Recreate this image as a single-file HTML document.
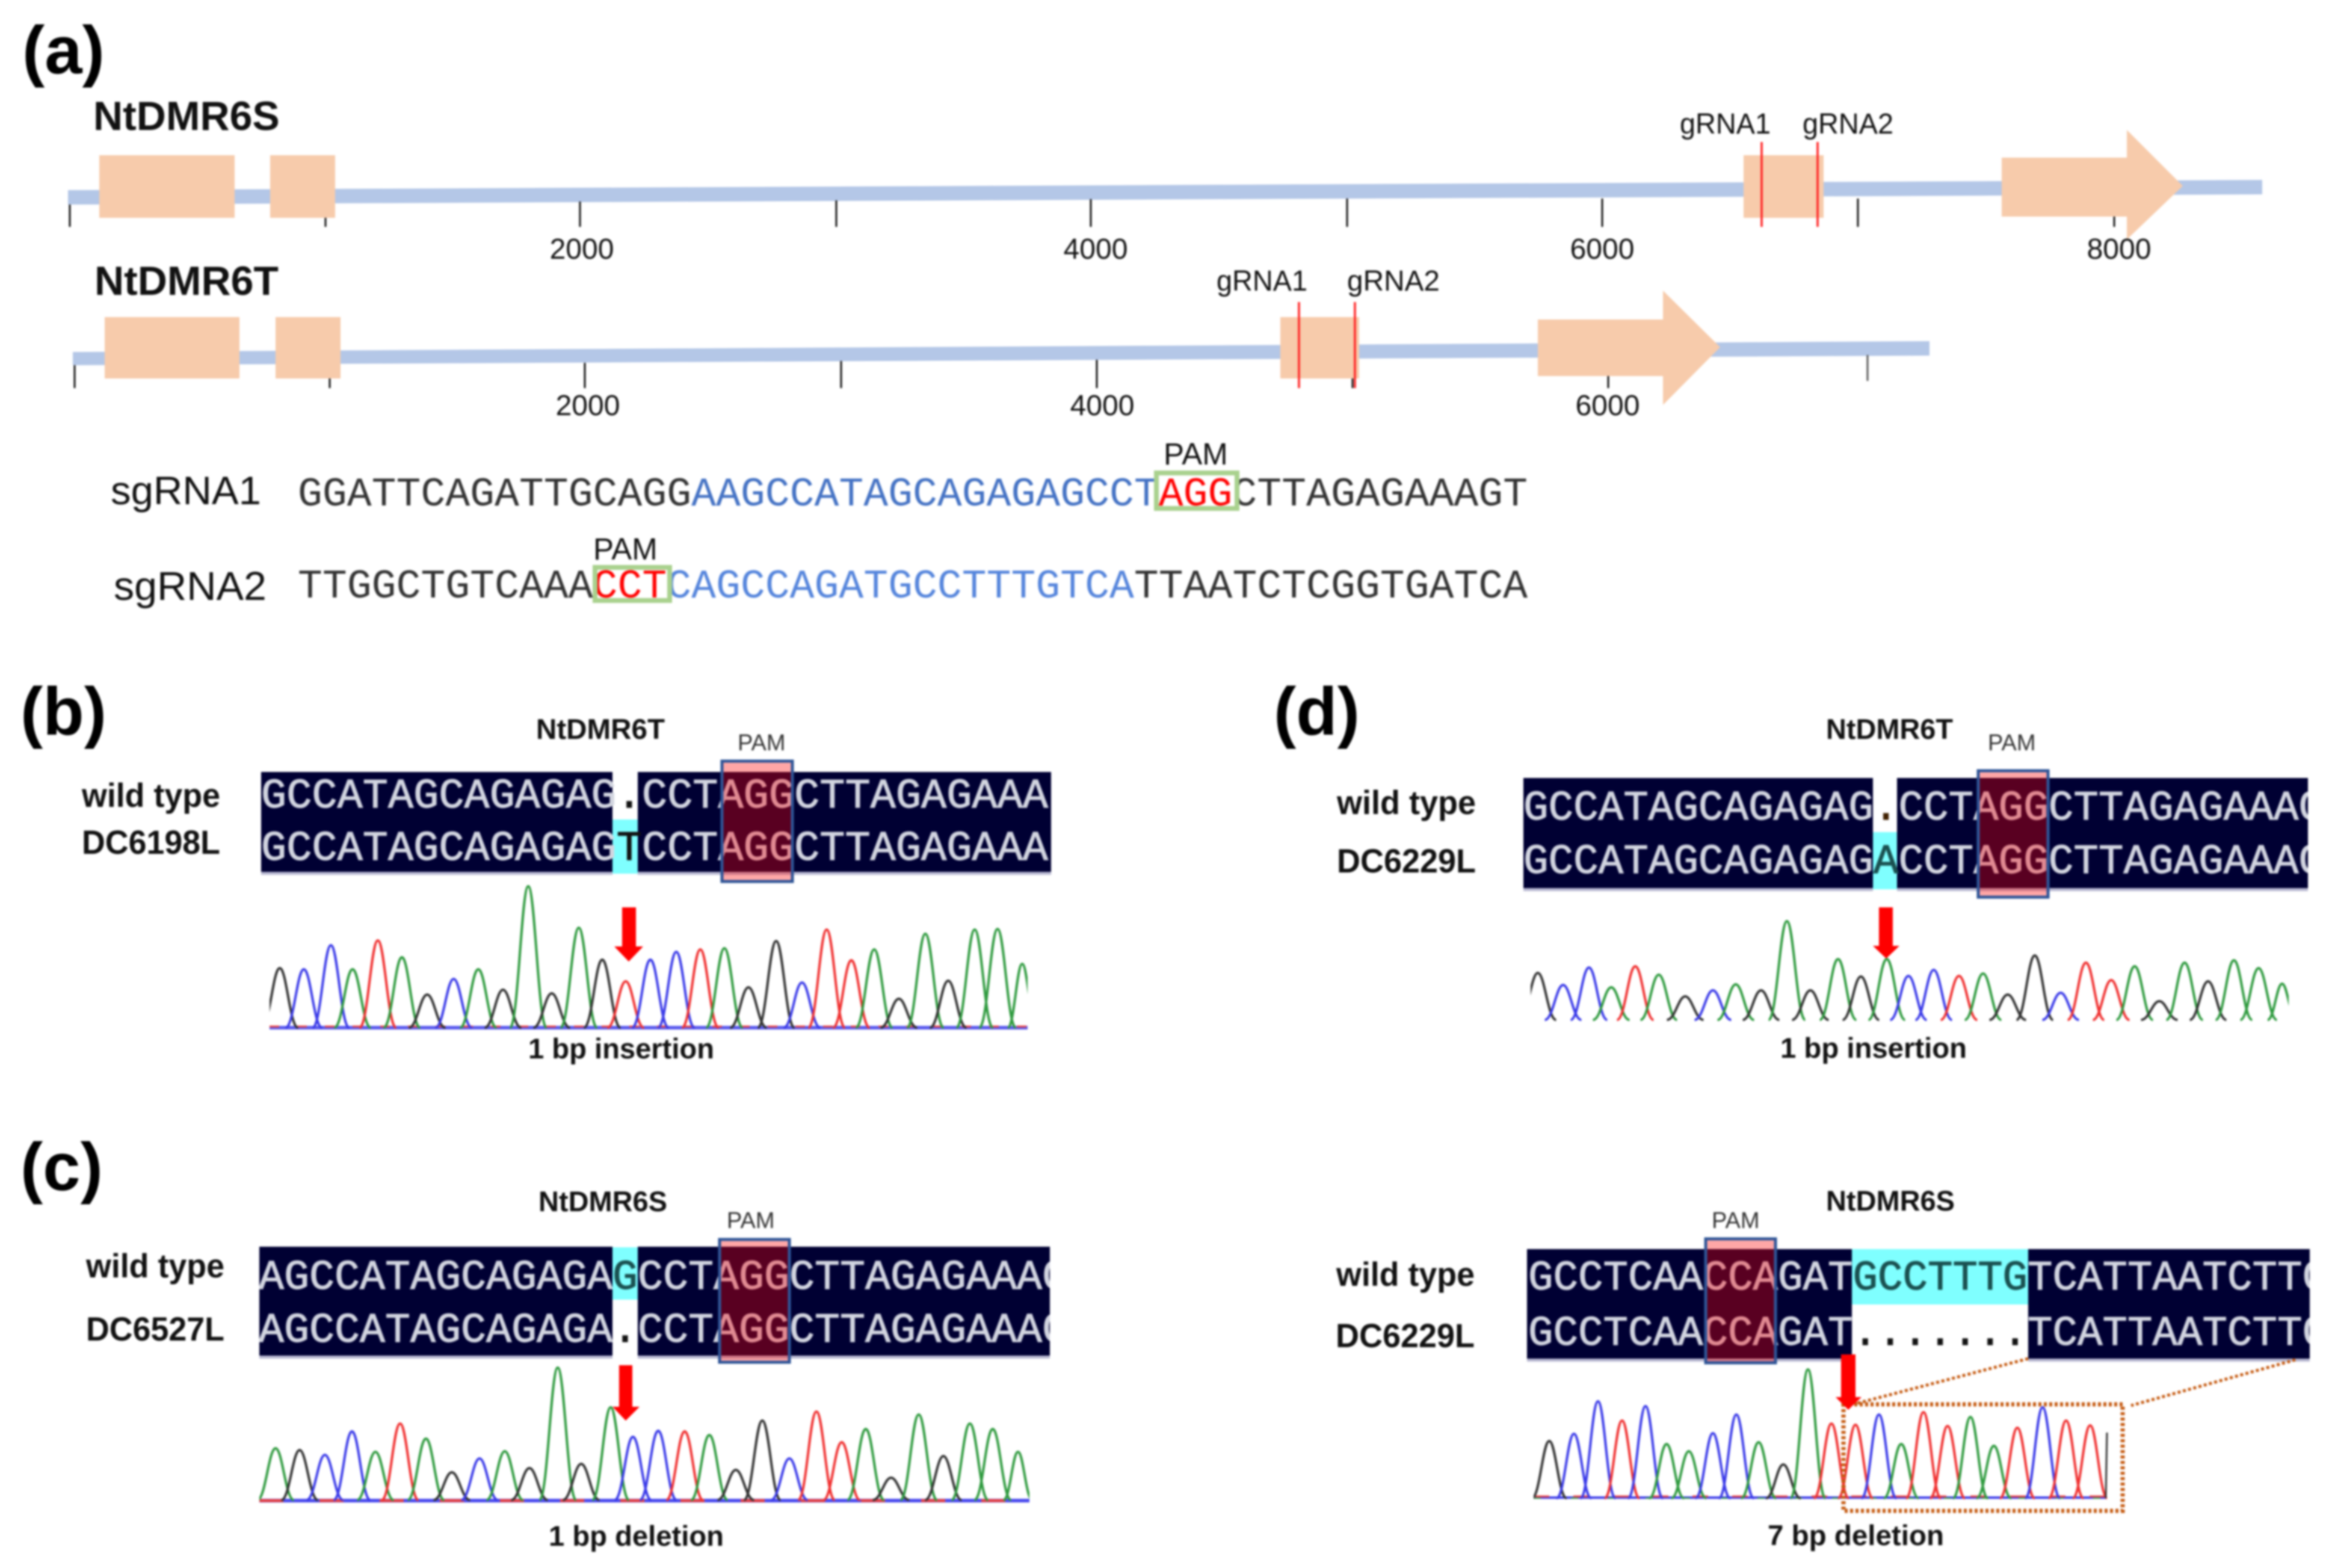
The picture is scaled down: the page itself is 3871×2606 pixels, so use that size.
<!DOCTYPE html>
<html><head><meta charset="utf-8"><style>
html,body{margin:0;padding:0;background:#fff}
svg{display:block;filter:blur(1.6px)}
text{font-family:"Liberation Sans",sans-serif;fill:#111}
.h{font-weight:bold}
.big{font-weight:bold;font-size:112px;fill:#000}
.g{font-size:68px;font-weight:bold}
.n{font-size:48px;fill:#111}
.s{font-size:47px;font-weight:bold}
.pm{font-size:38px;fill:#333}
.l{font-size:56px;font-weight:bold}
.m{font-family:"Liberation Mono",monospace;font-size:70px;fill:#d2d5e0;stroke:#d2d5e0;stroke-width:1.2}
.q{font-family:"Liberation Mono",monospace;font-size:68px;fill:#333}
use{fill:none;stroke-width:4}
.K{stroke:#333}.B{stroke:#3a3ae8}.G{stroke:#2e9a3e}.R{stroke:#f03030}
</style></head><body>
<svg width="3871" height="2606" viewBox="0 0 3871 2606" xmlns="http://www.w3.org/2000/svg">
<defs>
<path id="p" d="M-.8 0C-.44 0-.3-1 0-1S.44 0 .8 0" vector-effect="non-scaling-stroke"/>
<clipPath id="cb"><rect x="434" y="1270" width="1313" height="200"/></clipPath>
<clipPath id="cd"><rect x="2532" y="1270" width="1304" height="220"/></clipPath>
<clipPath id="cc"><rect x="431" y="2060" width="1314" height="200"/></clipPath>
<clipPath id="ce"><rect x="2538" y="2060" width="1301" height="200"/></clipPath>
<clipPath id="pb"><rect x="448" y="1450" width="1260" height="270"/></clipPath>
<clipPath id="pd"><rect x="2544" y="1450" width="1260" height="260"/></clipPath>
<clipPath id="pc"><rect x="431" y="2250" width="1280" height="255"/></clipPath>
<clipPath id="pe"><rect x="2549" y="2250" width="953" height="250"/></clipPath>
</defs>
<rect width="3871" height="2606" fill="#fff"/>

<!-- (a) -->
<text class="big" x="37" y="122">(a)</text>
<text class="g" x="155" y="216">NtDMR6S</text>
<text class="g" x="157" y="490">NtDMR6T</text>

<polygon points="113,316 3760,299 3760,323 113,340" fill="#b4c7e7"/>
<g stroke="#111" stroke-width="3">
<line x1="116" y1="340" x2="116" y2="377"/><line x1="541" y1="340" x2="541" y2="377"/><line x1="964" y1="335" x2="964" y2="377"/><line x1="1390" y1="333" x2="1390" y2="377"/><line x1="1813" y1="331" x2="1813" y2="377"/><line x1="2239" y1="330" x2="2239" y2="377"/><line x1="2663" y1="330" x2="2663" y2="377"/><line x1="3088" y1="330" x2="3088" y2="377"/><line x1="3514" y1="330" x2="3514" y2="377"/>
</g>
<g fill="#f7cbab">
<rect x="165" y="258" width="225" height="104"/><rect x="449" y="258" width="108" height="104"/><rect x="2898" y="258" width="133" height="104"/>
<polygon points="3327,262 3535,262 3535,216 3628,309 3535,398 3535,360 3327,360"/>
</g>
<g stroke="#f22" stroke-width="3.5"><line x1="2928" y1="236" x2="2928" y2="377"/><line x1="3021" y1="236" x2="3021" y2="377"/></g>
<g text-anchor="middle"><text class="n" x="967" y="430">2000</text><text class="n" x="1821" y="430">4000</text><text class="n" x="2663" y="430">6000</text><text class="n" x="3522" y="430">8000</text></g>
<text class="n" x="2792" y="222" textLength="151" lengthAdjust="spacingAndGlyphs">gRNA1</text>
<text class="n" x="2996" y="222" textLength="151" lengthAdjust="spacingAndGlyphs">gRNA2</text>

<polygon points="121,585 3207,567 3207,591 121,607" fill="#b4c7e7"/>
<g stroke="#111" stroke-width="3">
<line x1="124" y1="607" x2="124" y2="645"/><line x1="548" y1="605" x2="548" y2="645"/><line x1="972" y1="603" x2="972" y2="645"/><line x1="1398" y1="600" x2="1398" y2="645"/><line x1="1823" y1="598" x2="1823" y2="645"/><line x1="2248" y1="596" x2="2248" y2="645"/><line x1="2673" y1="594" x2="2673" y2="645"/><line x1="3104" y1="590" x2="3104" y2="633" stroke="#555"/>
</g>
<g fill="#f7cbab">
<rect x="174" y="527" width="224" height="102"/><rect x="458" y="527" width="108" height="102"/><rect x="2128" y="527" width="131" height="102"/>
<polygon points="2556,531 2764,531 2764,483 2859,577 2764,673 2764,625 2556,625"/>
</g>
<g stroke="#f22" stroke-width="3.5"><line x1="2159" y1="502" x2="2159" y2="645"/><line x1="2252" y1="502" x2="2252" y2="645"/></g>
<g text-anchor="middle"><text class="n" x="977" y="690">2000</text><text class="n" x="1832" y="690">4000</text><text class="n" x="2672" y="690">6000</text></g>
<text class="n" x="2022" y="483" textLength="151" lengthAdjust="spacingAndGlyphs">gRNA1</text>
<text class="n" x="2239" y="483" textLength="154" lengthAdjust="spacingAndGlyphs">gRNA2</text>

<text x="184" y="838" font-size="66" textLength="250" lengthAdjust="spacingAndGlyphs">sgRNA1</text>
<text x="189" y="997" font-size="67" textLength="254" lengthAdjust="spacingAndGlyphs">sgRNA2</text>
<text class="q" x="495" y="840" textLength="2044" lengthAdjust="spacingAndGlyphs">GGATTCAGATTGCAGG<tspan style="fill:#4472c4">AAGCCATAGCAGAGAGCCT</tspan><tspan style="fill:#f00">AGG</tspan>CTTAGAGAAAGT</text>
<text class="q" x="495" y="993" textLength="2044" lengthAdjust="spacingAndGlyphs">TTGGCTGTCAAA<tspan style="fill:#f00">CCT</tspan><tspan style="fill:#5585dc">CAGCCAGATGCCTTTGTCA</tspan>TTAATCTCGGTGATCA</text>
<rect x="1922" y="786" width="134" height="59" fill="none" stroke="#a9d18e" stroke-width="8"/>
<rect x="989" y="943" width="124" height="55" fill="none" stroke="#a9d18e" stroke-width="8"/>
<text x="1934" y="772" font-size="51">PAM</text>
<text x="986" y="930" font-size="51">PAM</text>

<!-- (b) -->
<text class="big" x="34" y="1221">(b)</text>
<text class="s" x="891" y="1228" textLength="214" lengthAdjust="spacingAndGlyphs">NtDMR6T</text>
<text class="pm" x="1226" y="1247">PAM</text>
<text class="l" x="136" y="1341" textLength="230" lengthAdjust="spacingAndGlyphs">wild type</text>
<text class="l" x="136" y="1419" textLength="230" lengthAdjust="spacingAndGlyphs">DC6198L</text>
<rect x="434" y="1283" width="584" height="166" fill="#000033"/><rect x="1060" y="1283" width="687" height="166" fill="#000033"/>
<rect x="1018" y="1362" width="42" height="90" fill="#7fffff"/>
<rect x="434" y="1449" width="584" height="5" fill="#b9b9d2"/><rect x="1060" y="1449" width="687" height="5" fill="#b9b9d2"/>
<g clip-path="url(#cb)">
<text class="m" x="434" y="1342" textLength="1308" lengthAdjust="spacingAndGlyphs">GCCATAGCAGAGAG<tspan style="fill:#111;stroke:#111">.</tspan>CCTAGGCTTAGAGAAA</text>
<text class="m" x="434" y="1429" textLength="1308" lengthAdjust="spacingAndGlyphs">GCCATAGCAGAGAG<tspan style="fill:#111;stroke:#111">T</tspan>CCTAGGCTTAGAGAAA</text>
</g>
<rect x="1200" y="1265" width="117" height="200" fill="rgba(255,0,0,.35)" stroke="#2f5597" stroke-width="5"/>
<line x1="448" y1="1708" x2="1708" y2="1708" stroke="#5a5aee" stroke-width="6"/>
<line x1="448" y1="1706" x2="1708" y2="1706" stroke="#e84040" stroke-width="3" stroke-dasharray="16 30"/>
<g clip-path="url(#pb)"><g transform="translate(0 1708)">
<use href="#p" class="K" transform="translate(465)scale(38 99)"/><use href="#p" class="B" transform="translate(505)scale(38 97)"/><use href="#p" class="B" transform="translate(550)scale(38 137)"/><use href="#p" class="G" transform="translate(586)scale(38 97)"/><use href="#p" class="R" transform="translate(628)scale(38 145)"/><use href="#p" class="G" transform="translate(668)scale(38 117)"/><use href="#p" class="K" transform="translate(710)scale(38 55)"/><use href="#p" class="B" transform="translate(754)scale(38 81)"/><use href="#p" class="G" transform="translate(795)scale(38 97)"/><use href="#p" class="K" transform="translate(836)scale(38 63)"/><use href="#p" class="G" transform="translate(878)scale(38 235)"/><use href="#p" class="K" transform="translate(917)scale(38 57)"/><use href="#p" class="G" transform="translate(962)scale(38 166)"/><use href="#p" class="K" transform="translate(1001)scale(38 113)"/><use href="#p" class="R" transform="translate(1040)scale(38 77)"/><use href="#p" class="B" transform="translate(1081)scale(38 113)"/><use href="#p" class="B" transform="translate(1124)scale(38 126)"/><use href="#p" class="R" transform="translate(1164)scale(38 130)"/><use href="#p" class="G" transform="translate(1204)scale(38 132)"/><use href="#p" class="K" transform="translate(1244)scale(38 67)"/><use href="#p" class="K" transform="translate(1290)scale(38 144)"/><use href="#p" class="B" transform="translate(1333)scale(38 75)"/><use href="#p" class="R" transform="translate(1374)scale(38 163)"/><use href="#p" class="R" transform="translate(1415)scale(38 112)"/><use href="#p" class="G" transform="translate(1453)scale(38 130)"/><use href="#p" class="K" transform="translate(1494)scale(38 48)"/><use href="#p" class="G" transform="translate(1538)scale(38 156)"/><use href="#p" class="K" transform="translate(1576)scale(38 78)"/><use href="#p" class="G" transform="translate(1620)scale(38 163)"/><use href="#p" class="G" transform="translate(1658)scale(38 164)"/><use href="#p" class="G" transform="translate(1699)scale(30 106)"/>
</g></g>
<polygon points="1034,1508 1057,1508 1057,1573 1069,1573 1045,1598 1021,1573 1034,1573" fill="#f00"/>
<text class="s" x="878" y="1759" textLength="309" lengthAdjust="spacingAndGlyphs">1 bp insertion</text>

<!-- (d) top -->
<text class="big" x="2117" y="1221">(d)</text>
<text class="s" x="3035" y="1228" textLength="211" lengthAdjust="spacingAndGlyphs">NtDMR6T</text>
<text class="pm" x="3304" y="1247">PAM</text>
<text class="l" x="2222" y="1353" textLength="231" lengthAdjust="spacingAndGlyphs">wild type</text>
<text class="l" x="2222" y="1450" textLength="231" lengthAdjust="spacingAndGlyphs">DC6229L</text>
<rect x="2532" y="1293" width="581" height="183" fill="#000033"/><rect x="3153" y="1293" width="683" height="183" fill="#000033"/>
<rect x="3113" y="1383" width="40" height="95" fill="#7fffff"/>
<rect x="2532" y="1476" width="581" height="5" fill="#b9b9d2"/><rect x="3153" y="1476" width="683" height="5" fill="#b9b9d2"/>
<g clip-path="url(#cd)">
<text class="m" x="2532" y="1362" textLength="1330" lengthAdjust="spacingAndGlyphs">GCCATAGCAGAGAG<tspan style="fill:#402000;stroke:#402000">.</tspan>CCTAGGCTTAGAGAAAC</text>
<text class="m" x="2532" y="1451" textLength="1330" lengthAdjust="spacingAndGlyphs">GCCATAGCAGAGAG<tspan style="fill:#1a5050;stroke:#1a5050">A</tspan>CCTAGGCTTAGAGAAAC</text>
</g>
<rect x="3288" y="1281" width="116" height="210" fill="rgba(255,0,0,.35)" stroke="#2f5597" stroke-width="5"/>
<g clip-path="url(#pd)"><g transform="translate(0 1695)">
<use href="#p" class="K" transform="translate(2556)scale(38 78)"/><use href="#p" class="B" transform="translate(2598)scale(38 58)"/><use href="#p" class="B" transform="translate(2641)scale(38 87)"/><use href="#p" class="G" transform="translate(2678)scale(38 54)"/><use href="#p" class="R" transform="translate(2718)scale(38 89)"/><use href="#p" class="G" transform="translate(2757)scale(38 75)"/><use href="#p" class="K" transform="translate(2801)scale(38 39)"/><use href="#p" class="B" transform="translate(2847)scale(38 49)"/><use href="#p" class="G" transform="translate(2885)scale(38 59)"/><use href="#p" class="K" transform="translate(2927)scale(38 49)"/><use href="#p" class="G" transform="translate(2970)scale(38 164)"/><use href="#p" class="K" transform="translate(3009)scale(38 49)"/><use href="#p" class="G" transform="translate(3055)scale(38 101)"/><use href="#p" class="K" transform="translate(3093)scale(38 72)"/><use href="#p" class="G" transform="translate(3136)scale(38 101)"/><use href="#p" class="B" transform="translate(3172)scale(38 73)"/><use href="#p" class="B" transform="translate(3214)scale(38 83)"/><use href="#p" class="R" transform="translate(3256)scale(38 73)"/><use href="#p" class="G" transform="translate(3296)scale(38 77)"/><use href="#p" class="K" transform="translate(3337)scale(38 42)"/><use href="#p" class="K" transform="translate(3382)scale(38 107)"/><use href="#p" class="B" transform="translate(3425)scale(38 45)"/><use href="#p" class="R" transform="translate(3467)scale(38 95)"/><use href="#p" class="R" transform="translate(3509)scale(38 66)"/><use href="#p" class="G" transform="translate(3548)scale(38 89)"/><use href="#p" class="K" transform="translate(3589)scale(38 31)"/><use href="#p" class="G" transform="translate(3631)scale(38 95)"/><use href="#p" class="K" transform="translate(3670)scale(38 64)"/><use href="#p" class="G" transform="translate(3713)scale(38 99)"/><use href="#p" class="G" transform="translate(3754)scale(38 86)"/><use href="#p" class="G" transform="translate(3793)scale(30 60)"/>
</g></g>
<polygon points="3123,1508 3146,1508 3146,1572 3157,1572 3135,1593 3113,1572 3123,1572" fill="#f00"/>
<text class="s" x="2959" y="1758" textLength="310" lengthAdjust="spacingAndGlyphs">1 bp insertion</text>

<!-- (c) -->
<text class="big" x="34" y="1978">(c)</text>
<text class="s" x="895" y="2013" textLength="214" lengthAdjust="spacingAndGlyphs">NtDMR6S</text>
<text class="pm" x="1208" y="2041">PAM</text>
<text class="l" x="143" y="2123" textLength="230" lengthAdjust="spacingAndGlyphs">wild type</text>
<text class="l" x="143" y="2228" textLength="230" lengthAdjust="spacingAndGlyphs">DC6527L</text>
<rect x="431" y="2072" width="587" height="181" fill="#000033"/><rect x="1060" y="2072" width="685" height="181" fill="#000033"/>
<rect x="1018" y="2073" width="42" height="87" fill="#7fffff"/>
<rect x="431" y="2253" width="587" height="5" fill="#b9b9d2"/><rect x="1060" y="2253" width="685" height="5" fill="#b9b9d2"/>
<g clip-path="url(#cc)">
<text class="m" x="430" y="2142" textLength="1344" lengthAdjust="spacingAndGlyphs">AGCCATAGCAGAGA<tspan style="fill:#1a5050;stroke:#1a5050">G</tspan>CCTAGGCTTAGAGAAAC</text>
<text class="m" x="430" y="2230" textLength="1344" lengthAdjust="spacingAndGlyphs">AGCCATAGCAGAGA<tspan style="fill:#111;stroke:#111">.</tspan>CCTAGGCTTAGAGAAAC</text>
</g>
<rect x="1196" y="2060" width="116" height="204" fill="rgba(255,0,0,.35)" stroke="#2f5597" stroke-width="5"/>
<line x1="431" y1="2494" x2="1711" y2="2494" stroke="#4a4aee" stroke-width="6"/>
<line x1="431" y1="2494" x2="1711" y2="2494" stroke="#e84040" stroke-width="5" stroke-dasharray="40 60"/>
<g clip-path="url(#pc)"><g transform="translate(0 2493)">
<use href="#p" class="G" transform="translate(458)scale(38 86)"/><use href="#p" class="K" transform="translate(498)scale(38 83)"/><use href="#p" class="B" transform="translate(540)scale(38 75)"/><use href="#p" class="B" transform="translate(585)scale(38 114)"/><use href="#p" class="G" transform="translate(624)scale(38 80)"/><use href="#p" class="R" transform="translate(665)scale(38 127)"/><use href="#p" class="G" transform="translate(708)scale(38 102)"/><use href="#p" class="K" transform="translate(751)scale(38 46)"/><use href="#p" class="B" transform="translate(797)scale(38 69)"/><use href="#p" class="G" transform="translate(839)scale(38 81)"/><use href="#p" class="K" transform="translate(880)scale(38 53)"/><use href="#p" class="G" transform="translate(927)scale(38 220)"/><use href="#p" class="K" transform="translate(966)scale(38 60)"/><use href="#p" class="G" transform="translate(1015)scale(38 154)"/><use href="#p" class="B" transform="translate(1052)scale(38 105)"/><use href="#p" class="B" transform="translate(1094)scale(38 115)"/><use href="#p" class="R" transform="translate(1138)scale(38 114)"/><use href="#p" class="G" transform="translate(1179)scale(38 108)"/><use href="#p" class="K" transform="translate(1223)scale(38 50)"/><use href="#p" class="K" transform="translate(1267)scale(38 132)"/><use href="#p" class="B" transform="translate(1312)scale(38 69)"/><use href="#p" class="R" transform="translate(1357)scale(38 147)"/><use href="#p" class="R" transform="translate(1399)scale(38 96)"/><use href="#p" class="G" transform="translate(1439)scale(38 118)"/><use href="#p" class="K" transform="translate(1481)scale(38 37)"/><use href="#p" class="G" transform="translate(1527)scale(38 142)"/><use href="#p" class="K" transform="translate(1568)scale(38 73)"/><use href="#p" class="G" transform="translate(1612)scale(38 127)"/><use href="#p" class="G" transform="translate(1650)scale(38 118)"/><use href="#p" class="G" transform="translate(1692)scale(30 80)"/>
</g></g>
<polygon points="1029,2269 1051,2269 1051,2338 1063,2338 1040,2361 1018,2338 1029,2338" fill="#f00"/>
<text class="s" x="912" y="2569" textLength="291" lengthAdjust="spacingAndGlyphs">1 bp deletion</text>

<!-- (d) bottom -->
<text class="s" x="3035" y="2012" textLength="214" lengthAdjust="spacingAndGlyphs">NtDMR6S</text>
<text class="pm" x="2845" y="2041">PAM</text>
<text class="l" x="2221" y="2137" textLength="230" lengthAdjust="spacingAndGlyphs">wild type</text>
<text class="l" x="2220" y="2239" textLength="231" lengthAdjust="spacingAndGlyphs">DC6229L</text>
<rect x="2538" y="2076" width="540" height="182" fill="#000033"/><rect x="3371" y="2076" width="468" height="182" fill="#000033"/>
<rect x="3078" y="2076" width="293" height="92" fill="#7fffff"/>
<rect x="2538" y="2258" width="540" height="5" fill="#b9b9d2"/><rect x="3371" y="2258" width="468" height="5" fill="#b9b9d2"/>
<g clip-path="url(#ce)">
<text class="m" x="2540" y="2143" textLength="1328" lengthAdjust="spacingAndGlyphs">GCCTCAACCAGAT<tspan style="fill:#1a5050;stroke:#1a5050">GCCTTTG</tspan>TCATTAATCTTC</text>
<text class="m" x="2540" y="2235" textLength="1328" lengthAdjust="spacingAndGlyphs">GCCTCAACCAGAT<tspan style="fill:#111;stroke:#111">.......</tspan>TCATTAATCTTC</text>
</g>
<rect x="2835" y="2059" width="116" height="206" fill="rgba(255,0,0,.35)" stroke="#2f5597" stroke-width="5"/>
<line x1="2549" y1="2489" x2="3502" y2="2489" stroke="#3a3ae8" stroke-width="4"/>
<line x1="2549" y1="2487" x2="3502" y2="2487" stroke="#e84040" stroke-width="3" stroke-dasharray="26 40"/>
<line x1="2549" y1="2490" x2="3502" y2="2490" stroke="#2e9a3e" stroke-width="2" stroke-dasharray="12 50"/>
<g clip-path="url(#pe)"><g transform="translate(0 2490)">
<use href="#p" class="K" transform="translate(2575)scale(36 95)"/><use href="#p" class="B" transform="translate(2616)scale(36 107)"/><use href="#p" class="B" transform="translate(2656)scale(36 161)"/><use href="#p" class="R" transform="translate(2696)scale(36 129)"/><use href="#p" class="B" transform="translate(2735)scale(36 153)"/><use href="#p" class="G" transform="translate(2770)scale(36 90)"/><use href="#p" class="G" transform="translate(2807)scale(36 78)"/><use href="#p" class="B" transform="translate(2847)scale(36 108)"/><use href="#p" class="B" transform="translate(2886)scale(36 139)"/><use href="#p" class="G" transform="translate(2923)scale(36 93)"/><use href="#p" class="K" transform="translate(2964)scale(36 56)"/><use href="#p" class="G" transform="translate(3005)scale(36 214)"/><use href="#p" class="R" transform="translate(3044)scale(36 124)"/><use href="#p" class="R" transform="translate(3084)scale(36 122)"/><use href="#p" class="B" transform="translate(3123)scale(36 139)"/><use href="#p" class="G" transform="translate(3160)scale(36 90)"/><use href="#p" class="R" transform="translate(3197)scale(36 143)"/><use href="#p" class="R" transform="translate(3237)scale(36 120)"/><use href="#p" class="G" transform="translate(3275)scale(36 135)"/><use href="#p" class="G" transform="translate(3314)scale(36 87)"/><use href="#p" class="R" transform="translate(3353)scale(36 117)"/><use href="#p" class="B" transform="translate(3395)scale(36 151)"/><use href="#p" class="R" transform="translate(3434)scale(36 129)"/><use href="#p" class="R" transform="translate(3474)scale(36 121)"/>
</g></g>
<line x1="3502" y1="2381" x2="3500" y2="2490" stroke="#333" stroke-width="3"/>
<g fill="none" stroke="#c55a11" stroke-dasharray="5 4">
<rect x="3064" y="2334" width="464" height="177" stroke-width="7"/>
<path d="M3371 2258L3084 2333M3815 2260L3542 2336" stroke-width="5"/>
</g>
<polygon points="3060,2251 3084,2251 3084,2322 3094,2322 3072,2343 3051,2322 3060,2322" fill="#f00"/>
<text class="s" x="2938" y="2568" textLength="293" lengthAdjust="spacingAndGlyphs">7 bp deletion</text>
</svg>
</body></html>
